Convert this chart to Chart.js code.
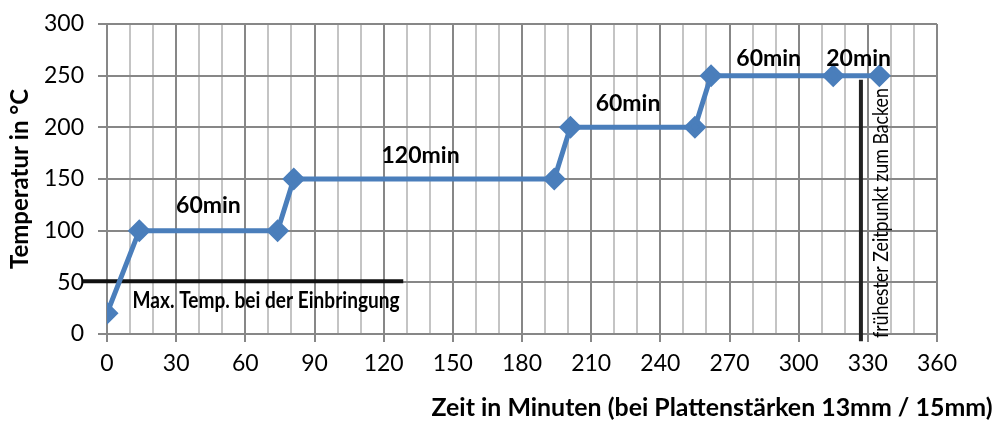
<!DOCTYPE html>
<html>
<head>
<meta charset="utf-8">
<script src="https://cdn.jsdelivr.net/npm/chart.js@4.4.0/dist/chart.umd.min.js"></script>
<style>
  body { margin: 0; background: #fff; }
  #chart { display: block; }
</style>
</head>
<body>
<canvas id="chart" width="998" height="421"></canvas>
<script>
// Zeit / Temperatur Verlauf
const timeMin = [0, 14, 74, 81, 194, 201, 255, 262, 315, 335];
const tempC = [20, 100, 100, 150, 150, 200, 200, 250, 250, 250];

const noteText = ['60min', '120min', '60min', '60min', '20min'];
const noteX = [44, 136, 226, 287, 326];
const noteY = [124, 173, 223, 267, 267];

// Hilfslinien
const maxTempX = [-10.5, 128.5];
const maxTempY = [51, 51];
const maxTempLabel = 'Max. Temp. bei der Einbringung';
const maxTempLabelPos = [69, 32];
const bakeX = [327, 327];
const bakeY = [246, -7];
const bakeLabel = 'frühester Zeitpunkt zum Backen';
const bakeLabelPos = [335.6, 117];

const xTitle = 'Zeit in Minuten (bei Plattenstärken 13mm / 15mm)';
const yTitle = 'Temperatur in °C';

const FONT = 'Lato, "Open Sans", sans-serif';

function toPoints(xs, ys) {
  return xs.map((x, i) => ({ x: x, y: ys[i] }));
}

function fitText(ctx, text, x, y, width, angle) {
  const w = ctx.measureText(text).width;
  ctx.save();
  ctx.translate(x, y);
  if (angle) ctx.rotate(angle);
  ctx.scale(width / w, 1);
  ctx.fillText(text, 0, 0);
  ctx.restore();
}

const notesPlugin = {
  id: 'notes',
  afterDatasetsDraw(chart) {
    const ctx = chart.ctx;
    const xs = chart.scales.x;
    const ys = chart.scales.y;
    ctx.save();
    ctx.fillStyle = '#000';
    ctx.textAlign = 'center';
    ctx.textBaseline = 'middle';
    ctx.font = 'bold 23px ' + FONT;
    noteText.forEach((t, i) => {
      ctx.fillText(t, xs.getPixelForValue(noteX[i]), ys.getPixelForValue(noteY[i]));
    });

    // schmale Beschriftungen der Hilfslinien
    ctx.font = 'bold 22px ' + FONT;
    fitText(ctx, maxTempLabel, xs.getPixelForValue(maxTempLabelPos[0]),
      ys.getPixelForValue(maxTempLabelPos[1]), 267, 0);
    ctx.font = '22px ' + FONT;
    fitText(ctx, bakeLabel, xs.getPixelForValue(bakeLabelPos[0]),
      ys.getPixelForValue(bakeLabelPos[1]), 250, -Math.PI / 2);

    // Achsentitel
    ctx.font = 'bold 24px ' + FONT;
    ctx.save();
    ctx.translate(20, (chart.chartArea.top + chart.chartArea.bottom) / 2);
    ctx.rotate(-Math.PI / 2);
    ctx.fillText(yTitle, 0, 0);
    ctx.restore();
    fitText(ctx, xTitle, 712, 408, 561, 0);
    ctx.restore();
  }
};

new Chart(document.getElementById('chart').getContext('2d'), {
  type: 'line',
  data: {
    datasets: [
      {
        data: toPoints(maxTempX, maxTempY),
        borderColor: '#111',
        borderWidth: 4,
        pointRadius: 0,
        clip: false,
        order: 2
      },
      {
        data: toPoints(bakeX, bakeY),
        borderColor: '#222',
        borderWidth: 4,
        pointRadius: 0,
        clip: false,
        order: 2
      },
      {
        data: toPoints(timeMin, tempC),
        borderColor: '#4a7ebb',
        backgroundColor: '#4a7ebb',
        borderWidth: 5,
        pointStyle: 'rectRot',
        pointRadius: 8,
        pointHoverRadius: 8,
        tension: 0,
        order: 1
      }
    ]
  },
  options: {
    responsive: false,
    animation: false,
    events: [],
    layout: { padding: { top: 0, right: 61, left: 0, bottom: 0 } },
    plugins: {
      legend: { display: false },
      tooltip: { enabled: false }
    },
    scales: {
      x: {
        type: 'linear',
        min: 0,
        max: 360,
        afterFit(scale) { scale.height = 87; },
        border: { display: false },
        grid: {
          color: (c) => (c.tick && c.tick.value % 30 === 0 ? '#878787' : '#c4c4c4'),
          tickColor: (c) => (c.tick && c.tick.value % 30 === 0 ? '#878787' : 'rgba(0,0,0,0)'),
          lineWidth: 2,
          tickLength: 8
        },
        ticks: {
          stepSize: 10,
          autoSkip: false,
          maxRotation: 0,
          padding: 8,
          color: '#000',
          font: { family: FONT, size: 23 },
          callback: (v) => (v % 30 === 0 ? String(v) : '')
        }
      },
      y: {
        min: 0,
        max: 300,
        afterFit(scale) {
          scale.width = 107;
          scale.paddingTop = 24;
        },
        border: { display: false },
        grid: {
          color: '#878787',
          lineWidth: 2,
          tickLength: 9
        },
        ticks: {
          stepSize: 50,
          padding: 14,
          color: '#000',
          font: { family: FONT, size: 23 }
        }
      }
    }
  },
  plugins: [notesPlugin]
});
</script>
</body>
</html>
